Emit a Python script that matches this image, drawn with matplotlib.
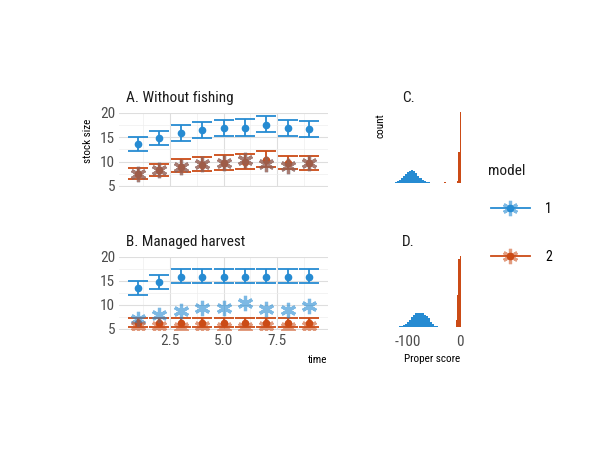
import matplotlib
matplotlib.use('Agg')
import matplotlib.pyplot as plt
from matplotlib.lines import Line2D
from matplotlib.legend_handler import HandlerTuple
import numpy as np

plt.rcParams['font.family'] = ['Roboto Condensed', 'Roboto', 'DejaVu Sans']
plt.rcParams['axes.unicode_minus'] = False

BLUE = '#268bd2'
ORANGE = '#cb4b16'
STAR = (6, 2, 0)

time = [1, 2, 3, 4, 5, 6, 7, 8, 9]

# A. without fishing
a_m1_mean = [13.6, 14.8, 15.9, 16.45, 16.9, 17.0, 17.6, 16.9, 16.7]
a_m1_lo = [12.2, 13.4, 14.3, 14.9, 15.3, 15.3, 16.0, 15.2, 15.0]
a_m1_hi = [15.0, 16.2, 17.5, 18.1, 18.6, 18.7, 19.4, 18.6, 18.4]
a_m2_mean = [7.4, 8.2, 9.0, 9.4, 9.7, 10.0, 10.4, 9.7, 9.7]
a_m2_lo = [6.4, 7.1, 7.9, 8.1, 8.3, 8.4, 9.0, 8.4, 8.3]
a_m2_hi = [8.6, 9.5, 10.5, 10.9, 11.3, 11.6, 12.1, 11.2, 11.2]
a_obs = [7.4, 8.3, 9.0, 9.5, 9.7, 10.3, 9.5, 9.2, 9.8]

# B. managed harvest
b_m1_mean = [13.5, 14.8, 15.9, 15.9, 15.9, 15.9, 15.9, 15.9, 15.9]
b_m1_lo = [12.1, 13.4, 14.5, 14.5, 14.5, 14.5, 14.5, 14.5, 14.5]
b_m1_hi = [15.0, 16.2, 17.6, 17.6, 17.6, 17.6, 17.6, 17.6, 17.6]
b_m2_mean = [6.3, 6.3, 6.3, 6.3, 6.3, 6.3, 6.3, 6.3, 6.3]
b_m2_lo = [5.45, 5.45, 5.45, 5.45, 5.45, 5.45, 5.45, 5.45, 5.45]
b_m2_hi = [7.2, 7.2, 7.2, 7.2, 7.2, 7.2, 7.2, 7.2, 7.2]
b_obs_m1 = [7.1, 8.0, 8.7, 9.4, 9.4, 10.5, 9.2, 8.9, 9.8]
b_obs_m2 = [5.6, 5.6, 5.5, 5.6, 5.5, 5.5, 5.6, 5.5, 5.6]

# C./D. proper score histograms
blue_width = 4
c_blue_x = [-128, -124, -120, -116, -112, -108, -104, -100, -96, -92, -88,
            -84, -80, -76, -72, -68, -64, -60, -56, -52, -48]
c_blue_n = [3, 10, 22, 40, 65, 95, 125, 155, 175, 180, 165,
            135, 100, 65, 40, 25, 15, 9, 5, 3, 2]
d_blue_x = [-124, -120, -116, -112, -108, -104, -100, -96, -92, -88, -84, -80,
            -76, -72, -68, -64, -60, -56, -52, -48, -44, -40, -36]
d_blue_n = [2, 4, 7, 12, 22, 40, 70, 105, 140, 170, 190, 200,
            200, 190, 170, 150, 130, 70, 40, 20, 10, 5, 2]
orange_width = 2.5
c_orange_x = [-31.5, -29, -26.5, -6.5, -4, -1.5, 1]
c_orange_n = [6, 8, 5, 5, 30, 440, 1000]
d_orange_x = [-6.5, -4, -1.5, 1]
d_orange_n = [100, 450, 960, 1000]

fig = plt.figure(figsize=(6, 4.5), dpi=100)


def px_axes(l, t, r, b):
    return fig.add_axes([l / 600, 1 - b / 450, (r - l) / 600, (b - t) / 450])


def px_text(x, y, s, **kw):
    fig.text(x / 600, 1 - y / 450, s, **kw)


def ts_panel(ax, m1, m2, obs1, obs2, show_x):
    for (mean, lo, hi), col in ((m1, BLUE), (m2, ORANGE)):
        mean = np.array(mean)
        err = [mean - np.array(lo), np.array(hi) - mean]
        ax.errorbar(time, mean, yerr=err, fmt='none', ecolor=col,
                    elinewidth=1.3, capsize=7, capthick=1.3, zorder=2)
        ax.plot(time, mean, 'o', color=col, ms=4.5, zorder=3)
    ax.plot(time, obs1, ls='none', marker=STAR, ms=11, mew=2.3,
            color=BLUE, alpha=0.6, zorder=4)
    ax.plot(time, obs2, ls='none', marker=STAR, ms=11, mew=2.3,
            color=ORANGE, alpha=0.55, zorder=5)
    ax.set_xlim(0.105, 9.895)
    ax.set_ylim(4.75, 20.1)
    ax.set_xticks([2.5, 5.0, 7.5])
    ax.set_xticks([1.25, 3.75, 6.25, 8.75], minor=True)
    ax.set_yticks([5, 10, 15, 20])
    ax.set_yticks([7.5, 12.5, 17.5], minor=True)
    ax.grid(True, which='major', color='#dedede', lw=0.8)
    ax.grid(True, which='minor', color='#eeeeee', lw=0.5)
    ax.set_axisbelow(True)
    for s in ax.spines.values():
        s.set_visible(False)
    ax.tick_params(which='both', length=0, labelsize=11, colors='#4d4d4d', pad=2.5)
    if show_x:
        ax.set_xticklabels(['2.5', '5.0', '7.5'])
    else:
        ax.set_xticklabels([])


def hist_panel(ax, bx, bn, ox, on, show_x):
    ax.bar(bx, bn, width=blue_width, color=BLUE, linewidth=0)
    ax.bar(ox, on, width=orange_width, color=ORANGE, linewidth=0)
    ax.set_xlim(-133, 6)
    top = max(max(bn), max(on))
    ax.set_ylim(-0.05 * top, 1.05 * top)
    ax.set_yticks([])
    for s in ax.spines.values():
        s.set_visible(False)
    ax.tick_params(length=0, labelsize=11, colors='#4d4d4d', pad=3)
    if show_x:
        ax.set_xticks([-100, 0])
        ax.set_xticklabels(['-100', '0'])
    else:
        ax.set_xticks([])


ax_a = px_axes(118.7, 112.5, 328.3, 187.2)
ts_panel(ax_a, (a_m1_mean, a_m1_lo, a_m1_hi), (a_m2_mean, a_m2_lo, a_m2_hi),
         a_obs, a_obs, False)
ax_b = px_axes(118.7, 256.5, 328.3, 330.2)
ts_panel(ax_b, (b_m1_mean, b_m1_lo, b_m1_hi), (b_m2_mean, b_m2_lo, b_m2_hi),
         b_obs_m1, b_obs_m2, True)

ax_c = px_axes(391, 108, 463, 186.6)
hist_panel(ax_c, c_blue_x, c_blue_n, c_orange_x, c_orange_n, False)
ax_d = px_axes(391, 252.5, 463, 330.5)
hist_panel(ax_d, d_blue_x, d_blue_n, d_orange_x, d_orange_n, True)

# titles and labels
px_text(126, 98, 'A. Without fishing', fontsize=11, color='#1a1a1a', va='center')
px_text(126, 242, 'B. Managed harvest', fontsize=11, color='#1a1a1a', va='center')
px_text(402, 98, 'C.', fontsize=11, color='#1a1a1a', va='center')
px_text(402, 242, 'D.', fontsize=11, color='#1a1a1a', va='center')
px_text(88, 141, 'stock size', fontsize=8, rotation=90, ha='center', va='center')
px_text(381, 126, 'count', fontsize=8, rotation=90, ha='center', va='center')
px_text(318, 360, 'time', fontsize=8, ha='center', va='center')
px_text(432, 359, 'Proper score', fontsize=8, ha='center', va='center')
px_text(488, 171, 'model', fontsize=11, color='#1a1a1a', va='center')

# legend
h1 = (Line2D([], [], color=BLUE, lw=1.3, marker='o', ms=4.5),
      Line2D([], [], ls='none', marker=STAR, ms=11, mew=2.3, color=BLUE, alpha=0.6))
h2 = (Line2D([], [], color=ORANGE, lw=1.3, marker='o', ms=4.5),
      Line2D([], [], ls='none', marker=STAR, ms=11, mew=2.3, color=ORANGE, alpha=0.55))
leg = fig.legend([h1, h2], ['1', '2'],
                 handler_map={tuple: HandlerTuple(ndivide=1, pad=0)},
                 loc='upper left', bbox_to_anchor=(491 / 600, 1 - 202 / 450),
                 frameon=False, fontsize=10, borderpad=0,
                 handlelength=2.8, labelspacing=2.45, handletextpad=1.1,
                 borderaxespad=0)

fig.savefig('out.png', dpi=100)
